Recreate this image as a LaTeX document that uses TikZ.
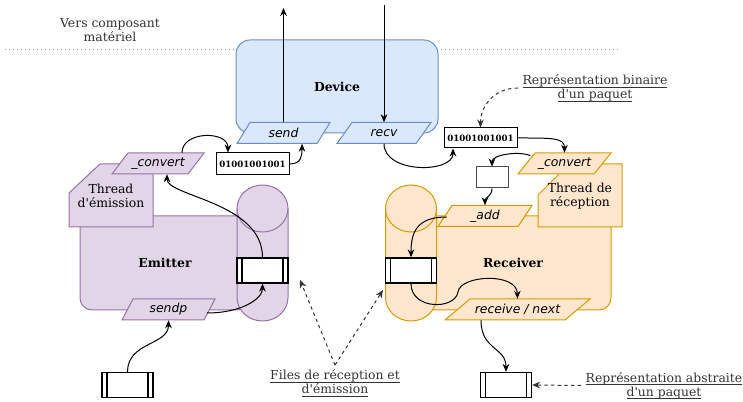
\documentclass[tikz,border=0pt]{standalone}
\usepackage{fontspec}
\setmainfont{DejaVu Serif}
\setsansfont{DejaVu Sans}
\usetikzlibrary{positioning,calc,arrows.meta}

\definecolor{purplefill}{HTML}{E1D5E7}
\definecolor{purpleline}{HTML}{9673A6}
\definecolor{orangefill}{HTML}{FFE6CC}
\definecolor{orangeline}{HTML}{D79B00}
\definecolor{bluefill}{HTML}{DAE8FC}
\definecolor{blueline}{HTML}{6C8EBF}

% underline close to the baseline
\newcommand{\ulined}[1]{\setbox0\hbox{#1}\rlap{\rule[-1.9pt]{\wd0}{0.5pt}}\box0}
\newcommand{\q}{\textquotesingle}

% slanted method box: name, centre x, centre y, half width, slant, style, text
\newcommand{\method}[7]{%
  \filldraw[#6] (#2-#4-#5,#3+10.5) -- (#2-#4+#5,#3-10.5) -- (#2+#4+#5,#3-10.5) -- (#2+#4-#5,#3+10.5) -- cycle;
  \node[inner sep=0, minimum width={#4*1.5pt}, minimum height=15.75pt,
        font=\fontsize{9.3}{10.5}\sffamily\itshape\selectfont] (#1) at (#2,#3) {#7};
}

\begin{document}
\begin{tikzpicture}[x=0.75pt, y=-0.75pt,
    font=\fontsize{9.3}{10.5}\selectfont,
    emit/.style={fill=purplefill, draw=purpleline, line width=0.75pt},
    recvc/.style={fill=orangefill, draw=orangeline, line width=0.75pt},
    dev/.style={fill=bluefill, draw=blueline, line width=0.75pt},
    block/.style={rounded corners=9pt, minimum height=70.5pt, inner sep=0,
                  font=\fontsize{9.3}{10.5}\bfseries\selectfont},
    packet/.style={draw, fill=white, line width=1pt, minimum width=38.25pt,
                   minimum height=18.75pt, inner sep=0,
                   path picture={
                     \draw ([xshift=3.75pt]path picture bounding box.north west) -- ([xshift=3.75pt]path picture bounding box.south west);
                     \draw ([xshift=-3.75pt]path picture bounding box.north east) -- ([xshift=-3.75pt]path picture bounding box.south east);
                   }},
    bits/.style={draw, fill=white, line width=0.75pt, minimum width=54.75pt,
                 inner sep=0, font=\fontsize{6.5}{8}\bfseries\selectfont},
    flow/.style={-{Stealth[length=6pt, width=5pt]}, line width=0.75pt},
    note/.style={-{Stealth[length=6pt, width=5pt]}, line width=0.75pt,
                 dash pattern=on 2.5pt off 2.5pt, black!80},
    caption/.style={align=center, text=black!80}]

    \useasboundingbox (0,0) rectangle (743,402);

    % hardware boundary
    \draw[black!40, line width=0.75pt, dash pattern=on 0.75pt off 2.25pt] (5,50) -- (618,50);
    \node[caption] (hwlbl) at (110,30) {Vers composant\\matériel};

    % Device
    \node[dev, block, rounded corners=10.5pt, minimum width=151.5pt, minimum height=69.75pt] (device) at (337,86.5) {Device};

    % Emitter and Receiver blocks
    \node[emit, block, minimum width=127.5pt] (emitter) at (165,263) {Emitter};
    \node[recvc, block, minimum width=147pt] (receiver) at (513,263) {Receiver};

    % threads
    \filldraw[emit] (69,227) -- (69,193) -- (100,164) -- (153,164) -- (153,227) -- cycle;
    \node[align=center] (thrE) at (111,196) {Thread\\d\q émission};
    \filldraw[recvc] (538,227) -- (538,195) -- (569,164) -- (622,164) -- (622,227) -- cycle;
    \node[align=center] (thrR) at (580,196) {Thread de\\réception};

    % queues
    \foreach \cx/\fc/\lc in {262.5/purplefill/purpleline, 411/orangefill/orangeline} {
        \filldraw[fill=\fc, draw=\lc, line width=0.75pt] (\cx-25.5,208.5)
            arc[start angle=180, end angle=0, x radius=19.125pt, y radius=17.625pt]
            -- (\cx+25.5,297.5)
            arc[start angle=0, end angle=-180, x radius=19.125pt, y radius=17.625pt] -- cycle;
        \draw[draw=\lc, line width=0.75pt] (\cx-25.5,208.5)
            arc[start angle=180, end angle=360, x radius=19.125pt, y radius=17.625pt];
    }

    % methods
    \method{send}{283.5}{133}{40}{6.5}{dev}{send}
    \method{recv}{384}{133}{39.5}{7.5}{dev}{recv}
    \method{convE}{158}{163.5}{38}{8}{emit}{\_convert}
    \method{sendp}{168.5}{309.5}{41}{5.5}{emit}{sendp}
    \method{convR}{564.5}{163.5}{38}{8.5}{recvc}{\_convert}
    \method{add}{485}{216}{40}{7}{recvc}{\_add}
    \method{next}{517.5}{309.5}{60}{12.5}{recvc}{receive / next}

    % packets
    \node[packet] (eq) at (262.5,270.5) {};
    \node[packet] (rq) at (411,270.5) {};
    \node[packet] (pktE) at (127.5,385) {};
    \node[packet] (pktR) at (506,385) {};

    \node[bits, minimum height=16.5pt] (binE) at (252.5,164) {01001001001};
    \node[bits, minimum height=15pt] (binR) at (480.5,138) {01001001001};
    \node[draw=black!70, fill=white, line width=0.75pt, minimum width=24pt, minimum height=15.75pt, inner sep=0] (buf) at (492,177.5) {};

    % notes
    \node[caption] (lblbin) at (595,88) {\ulined{Représentation binaire}\\\ulined{d\q un paquet}};
    \node[caption] (lblfiles) at (335,383) {\ulined{Files de réception et}\\\ulined{d\q émission}};
    \node[caption] (lblabs) at (664,385.5) {\ulined{Représentation abstraite}\\\ulined{d\q un paquet}};

    \coordinate (hwout) at (285,8);
    \coordinate (hwin) at (384,5);
    \coordinate (eqtip) at (300,280);
    \coordinate (rqtip) at (383,290);

    % emission path
    \draw[flow] (pktE.north) .. controls +(0,-30) and +(0,25) .. (sendp.south);
    \draw[flow] ($(sendp.east)+(-3,3.5)$) .. controls +(35,0) and +(0,15) .. (eq.south);
    \draw[flow] (eq.north) .. controls +(0,-55) and +(0,22) .. ($(convE.south)+(9,0)$);
    \draw[flow] ($(convE.north)+(24,0)$) .. controls +(0,-22) and +(0,-22) .. ($(binE.north)+(-24.5,0)$);
    \draw[flow] (binE.east) .. controls +(12,0) and +(0,12) .. ($(send.south)+(18.5,0)$);
    \draw[flow] (send.north) -- (send.north |- hwout);

    % reception path
    \draw[flow] (hwin) -- (recv.north);
    \draw[flow] (recv.south) .. controls +(0,30) and +(0,25) .. ($(binR.south)+(-27.5,0)$);
    \draw[flow] (binR.east) .. controls +(35,0) and +(0,-15) .. (convR.north);
    \draw[flow] ($(convR.north west)+(4,3)$) .. controls +(-10,-5) and +(0,-12) .. (buf.north);
    \draw[flow] (buf.south) .. controls +(0,8) and +(0,-8) .. (add.north);
    \draw[flow] ($(add.west)+(2,1)$) .. controls +(-30,0) and +(0,-25) .. (rq.north);
    \draw[flow] (rq.south) .. controls (411,310) and (455,310) .. (458,292)
                           .. controls (460,275) and (517,272) .. (next.north);
    \draw[flow] ($(next.south)+(-36.5,0)$) .. controls +(0,30) and +(0,-25) .. (pktR.north);

    % annotations
    \draw[note] (lblbin.west) .. controls +(-25,0) and +(0,-20) .. (binR.north);
    \draw[note] (lblabs.west) -- (pktR.east);
    \draw[note] (lblfiles.north) -- (eqtip);
    \draw[note] (lblfiles.north) -- (rqtip);

\end{tikzpicture}
\end{document}
